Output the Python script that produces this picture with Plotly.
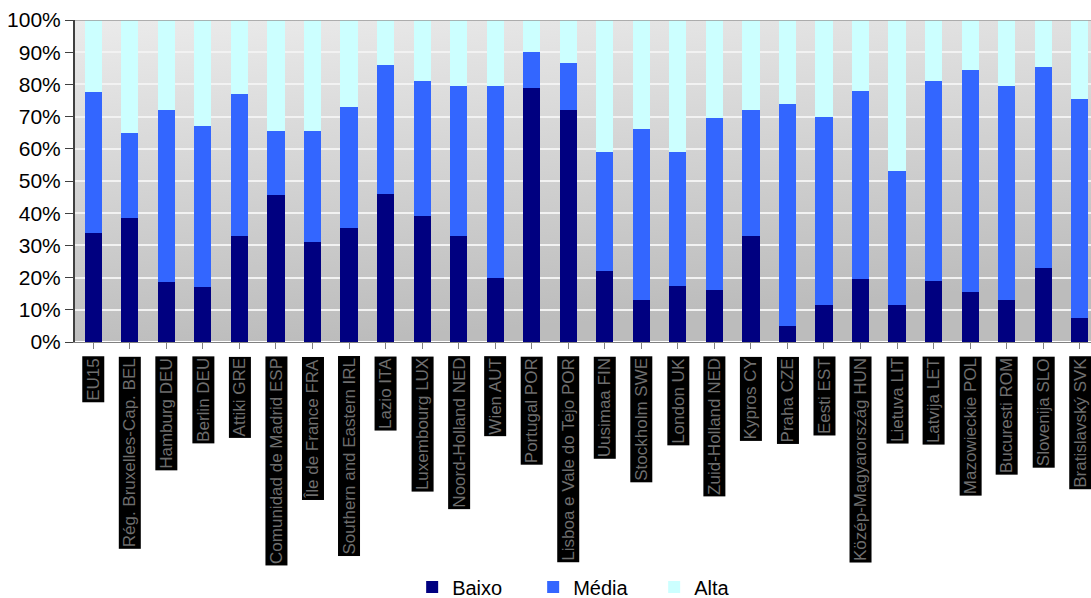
import base64
import plotly.graph_objects as go

categories = [
    "EU15", "Rég. Bruxelles-Cap. BEL", "Hamburg DEU", "Berlin DEU", "Attiki GRE",
    "Comunidad de Madrid ESP", "Île de France FRA", "Southern and Eastern IRL",
    "Lazio ITA", "Luxembourg LUX", "Noord-Holland NED", "Wien AUT", "Portugal POR",
    "Lisboa e Vale do Tejo POR", "Uusimaa FIN", "Stockholm SWE", "London UK",
    "Zuid-Holland NED", "Kypros CY", "Praha CZE", "Eesti EST",
    "Közép-Magyarország HUN", "Lietuva LIT", "Latvija LET", "Mazowieckie POL",
    "Bucuresti ROM", "Slovenija SLO", "Bratislavský SVK",
]
baixo = [34, 38.5, 18.5, 17, 33, 45.5, 31, 35.5, 46, 39, 33, 20, 79, 72, 22, 13,
         17.5, 16, 33, 5, 11.5, 19.5, 11.5, 19, 15.5, 13, 23, 7.5]
baixo_media = [77.5, 65, 72, 67, 77, 65.5, 65.5, 73, 86, 81, 79.5, 79.5, 90, 86.5,
               59, 66, 59, 69.5, 72, 74, 70, 78, 53, 81, 84.5, 79.5, 85.5, 75.5]
media = [round(t - b, 2) for t, b in zip(baixo_media, baixo)]
alta = [round(100 - t, 2) for t in baixo_media]

series = [("Baixo", baixo, "#000080"), ("Média", media, "#3366FF"), ("Alta", alta, "#CCFFFF")]

fig = go.Figure()
for name, vals, col in series:
    fig.add_trace(go.Bar(x=categories, y=[v / 100 for v in vals], name=name,
                         marker=dict(color=col, line=dict(width=0))))

annotations = []
for c in categories:
    annotations.append(dict(
        x=c, xref="x", y=0, yref="paper", yanchor="top", xanchor="center",
        yshift=-14, text=c, textangle=-90, showarrow=False,
        font=dict(family="Liberation Sans, Arial", size=17, color="#6e6e6e"),
        bgcolor="black", borderpad=1,
    ))

svg = ('<svg xmlns="http://www.w3.org/2000/svg" width="100" height="100" '
       'preserveAspectRatio="none" viewBox="0 0 100 100">'
       '<defs><linearGradient id="g" x1="0" y1="0" x2="0.25" y2="1">'
       '<stop offset="0" stop-color="#ebebeb"/><stop offset="1" stop-color="#bcbcbc"/>'
       '</linearGradient></defs><rect width="100" height="100" fill="url(#g)"/></svg>')
bg_src = "data:image/svg+xml;base64," + base64.b64encode(svg.encode()).decode()

fig.update_layout(
    width=1100, height=610,
    margin=dict(l=75, r=2, t=20, b=268),
    barmode="stack", bargap=0.53, hovermode=False,
    plot_bgcolor="rgba(0,0,0,0)", paper_bgcolor="white",
    font=dict(family="Liberation Sans, Arial", color="black"),
    annotations=annotations,
    images=[dict(source=bg_src, xref="paper", yref="paper", x=0, y=1, sizex=1, sizey=1,
                 xanchor="left", yanchor="top", sizing="stretch", layer="below")],
    shapes=[dict(type="line", xref="paper", yref="y", x0=0, x1=1, y0=1, y1=1,
                 line=dict(color="#9a9a9a", width=1.5))],
    legend=dict(orientation="h", x=0.507, xanchor="center", y=-0.761, yanchor="middle",
                font=dict(size=20), entrywidth=76, traceorder="normal"),
    xaxis=dict(showticklabels=False, ticks="outside", ticklen=6, tickcolor="#808080",
               showline=True, linecolor="#808080", range=[-0.5, len(categories) - 0.5]),
    yaxis=dict(range=[0, 1], tickformat=".0%", dtick=0.1, tickfont=dict(size=21),
               ticks="outside", ticklen=8, tickcolor="#404040", showline=True,
               linecolor="#404040", linewidth=2, gridcolor="#f2f2f2", gridwidth=1.5),
)

fig.write_html("out.html", config={"displayModeBar": False},
               post_script="document.body.style.margin='0';document.body.style.overflow='hidden';")
